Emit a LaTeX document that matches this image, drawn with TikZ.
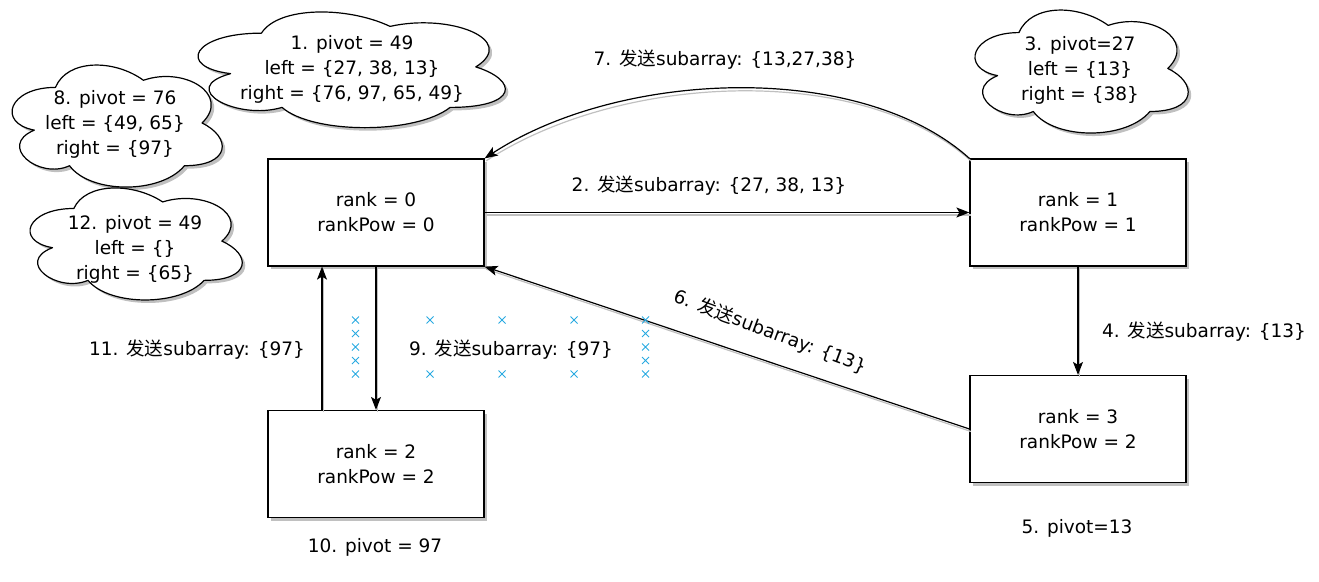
\documentclass[tikz,border=0pt]{standalone}
\usepackage{fontspec}
\setmainfont{DejaVu Sans}
\newfontfamily\cjk{Noto Sans CJK SC}
\usetikzlibrary{arrows.meta}
\newcommand{\fasong}{{\cjk 发送}}
\definecolor{selblue}{RGB}{41,170,225}
\definecolor{shadowgray}{RGB}{192,192,192}
\pgfdeclarelayer{bg}
\pgfsetlayers{bg,main}
% draw.io-style cloud: x0, y0, w, h (bounding box, y downwards)
\newcommand{\mxcloudpath}[4]{%
  (#1+0.25*#3, #2+0.25*#4)
  .. controls (#1+0.05*#3, #2+0.25*#4) and (#1, #2+0.5*#4) .. (#1+0.16*#3, #2+0.55*#4)
  .. controls (#1, #2+0.66*#4) and (#1+0.18*#3, #2+0.9*#4) .. (#1+0.31*#3, #2+0.8*#4)
  .. controls (#1+0.4*#3, #2+#4) and (#1+0.7*#3, #2+#4) .. (#1+0.8*#3, #2+0.8*#4)
  .. controls (#1+#3, #2+0.8*#4) and (#1+#3, #2+0.6*#4) .. (#1+0.875*#3, #2+0.5*#4)
  .. controls (#1+#3, #2+0.3*#4) and (#1+0.8*#3, #2+0.1*#4) .. (#1+0.625*#3, #2+0.2*#4)
  .. controls (#1+0.5*#3, #2+0.05*#4) and (#1+0.3*#3, #2+0.05*#4) .. (#1+0.25*#3, #2+0.25*#4)
  -- cycle}
\newcommand{\mxcloud}[4]{%
  \fill[shadowgray] [shift={(3,3)}] \mxcloudpath{#1}{#2}{#3}{#4};
  \draw[line width=1.2pt, fill=white, line join=round] \mxcloudpath{#1}{#2}{#3}{#4};}
\begin{document}
\begin{tikzpicture}[x=1pt,y=-1pt,
  txt/.style={font=\fontsize{18.5}{25}\selectfont, align=center, inner sep=0pt},
  box/.style={draw, line width=1.2pt, fill=white, minimum width=216pt, minimum height=107pt, txt},
  boxshadow/.style={fill=shadowgray, draw=none, minimum width=216pt, minimum height=107pt, inner sep=0pt},
  link/.style={line width=1.2pt, -{Stealth[length=13pt,width=10pt,inset=3pt]},
    preaction={draw=shadowgray, line width=1.2pt, -, transform canvas={shift={(1.5pt,-2.5pt)}}}},
  xm/.style={selblue, line width=1pt}
]
\useasboundingbox (0,0) rectangle (1319,581);

% clouds
\mxcloud{175.7}{-0.6}{343}{135}
\node[txt] (t1) at (352,69) {1. pivot = 49\\left = \{27, 38, 13\}\\right = \{76, 97, 65, 49\}};
\mxcloud{-3.2}{51.8}{234.6}{142.4}
\node[txt] (t8) at (115,124) {8. pivot = 76\\left = \{49, 65\}\\right = \{97\}};
\mxcloud{14.6}{175.8}{236.9}{130.7}
\node[txt] (t12) at (135,249) {12. pivot = 49\\left = \{\}\\right = \{65\}};
\mxcloud{959.5}{-3.3}{238}{143.5}
\node[txt] (t3) at (1080,70) {3. pivot=27\\left = \{13\}\\right = \{38\}};

% boxes
\node[box] (r0) at (376,212.5) {rank = 0\\rankPow = 0};
\node[box] (r1) at (1078,212.5) {rank = 1\\rankPow = 1};
\node[box] (r3) at (1078,429) {rank = 3\\rankPow = 2};
\node[box] (r2) at (376,464) {rank = 2\\rankPow = 2};

% box shadows
\begin{pgfonlayer}{bg}
  \foreach \n in {r0,r1,r2,r3} {
    \node[boxshadow] (s\n) at ([shift={(3pt,-3pt)}]\n.center) {};
  }
\end{pgfonlayer}

% edges
\draw[link] (r0.east) -- (r1.west);
\draw[link] (r1.north west) .. controls (860,60) and (620,70) .. (r0.north east);
\draw[link] (r1.south) -- (r3.north);
\draw[link] (r3.west) -- (r0.south east);
\draw[link] (r0.south) -- (r2.north);
\draw[link] ([xshift=-54pt]r2.north) -- ([xshift=-54pt]r0.south);

% edge labels
\node[txt] (l2) at (709,186) {2. \fasong subarray: \{27, 38, 13\}};
\node[txt] (l7) at (725,60) {7. \fasong subarray: \{13,27,38\}};
\node[txt] (l4) at (1204,332) {4. \fasong subarray: \{13\}};
\node[txt, rotate=-20.5] (l6) at (770,332) {6. \fasong subarray: \{13\}};
\node[txt] (l9) at (511,350) {9. \fasong subarray: \{97\}};
\node[txt] (l11) at (197,350) {11. \fasong subarray: \{97\}};
\node[txt] (p5) at (1077,528) {5. pivot=13};
\node[txt] (p10) at (375,547) {10. pivot = 97};

% selection marks
\foreach \y in {320,333.5,347,360.5,374} {
  \draw[xm] (352,\y-3.5) -- (359,\y+3.5) (352,\y+3.5) -- (359,\y-3.5);
  \draw[xm] (642,\y-3.5) -- (649,\y+3.5) (642,\y+3.5) -- (649,\y-3.5);
}
\foreach \x in {430,502,574} {
  \foreach \y in {320,374} {
    \draw[xm] (\x-3.5,\y-3.5) -- (\x+3.5,\y+3.5) (\x-3.5,\y+3.5) -- (\x+3.5,\y-3.5);
  }
}
\end{tikzpicture}
\end{document}
